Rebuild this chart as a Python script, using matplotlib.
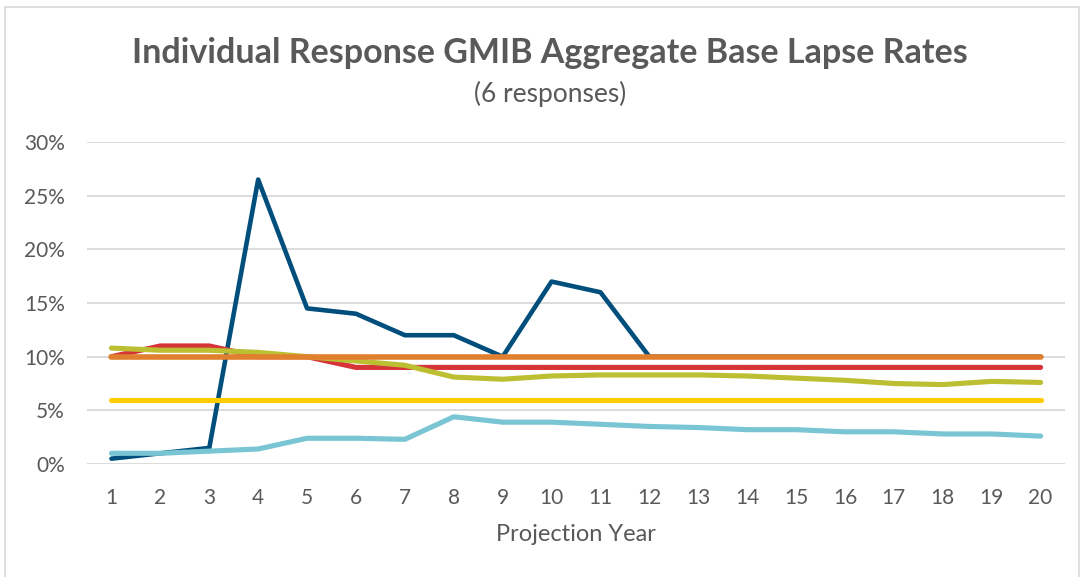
import matplotlib.pyplot as plt
from matplotlib.patches import Rectangle

years = list(range(1, 21))

resp_a = [0.5, 1.0, 1.5, 26.5, 14.5, 14.0, 12.0, 12.0, 10.0, 17.0, 16.0, 10.0,
          10.0, 10.0, 10.0, 10.0, 10.0, 10.0, 10.0, 10.0]
resp_b = [10.0, 11.0, 11.0, 10.0, 10.0, 9.0, 9.0, 9.0, 9.0, 9.0, 9.0, 9.0,
          9.0, 9.0, 9.0, 9.0, 9.0, 9.0, 9.0, 9.0]
resp_c = [1.0, 1.0, 1.2, 1.4, 2.4, 2.4, 2.3, 4.4, 3.9, 3.9, 3.7, 3.5,
          3.4, 3.2, 3.2, 3.0, 3.0, 2.8, 2.8, 2.6]
resp_d = [6.0] * 20
resp_e = [10.8, 10.6, 10.6, 10.4, 10.0, 9.6, 9.2, 8.1, 7.9, 8.2, 8.3, 8.3,
          8.3, 8.2, 8.0, 7.8, 7.5, 7.4, 7.7, 7.6]
resp_f = [10.0] * 20

y_ticks = [0, 5, 10, 15, 20, 25, 30]

grey = "#595959"
plt.rcParams['font.family'] = ['Lato', 'DejaVu Sans']

fig = plt.figure(figsize=(10.89, 5.77), dpi=100)
ax = fig.add_axes([0.0799, 0.1958, 0.8981, 0.5581])

ax.plot(years, resp_a, color="#004e7c", lw=3.3, solid_capstyle="round", zorder=3)
ax.plot(years, resp_b, color="#d7343a", lw=3.7, solid_capstyle="round", zorder=4)
ax.plot(years, resp_c, color="#79c5d4", lw=3.7, solid_capstyle="round", zorder=5)
ax.plot(years, resp_d, color="#ffcc00", lw=3.7, solid_capstyle="round", zorder=6)
ax.plot(years, resp_e, color="#bcbf32", lw=3.7, solid_capstyle="round", zorder=7)
ax.plot(years, resp_f, color="#e07f2e", lw=4.0, solid_capstyle="round", zorder=8)

ax.set_xlim(0.5, 20.5)
ax.set_ylim(0, 30)
ax.set_xticks(years)
ax.set_yticks(y_ticks)
ax.set_yticklabels([f"{v}%" for v in y_ticks])
ax.tick_params(length=0, labelsize=15, colors=grey, pad=17)
ax.tick_params(axis="y", pad=16)
ax.grid(axis="y", color="#d9d9d9", lw=1.3, zorder=0)
for s in ax.spines.values():
    s.set_visible(False)
ax.set_xlabel("Projection Year", fontsize=17, color=grey, labelpad=12)

fig.text(0.505, 0.908, "Individual Response GMIB Aggregate Base Lapse Rates",
         ha="center", va="center", fontsize=24.5, fontweight="bold", color=grey)
fig.text(0.505, 0.838, "(6 responses)", ha="center", va="center",
         fontsize=19, color=grey)

fig.add_artist(Rectangle((0.005, -0.01), 0.986, 0.998, transform=fig.transFigure,
                         fill=False, edgecolor="#d9d9d9", lw=1.2))

fig.savefig("out.png", dpi=100)
